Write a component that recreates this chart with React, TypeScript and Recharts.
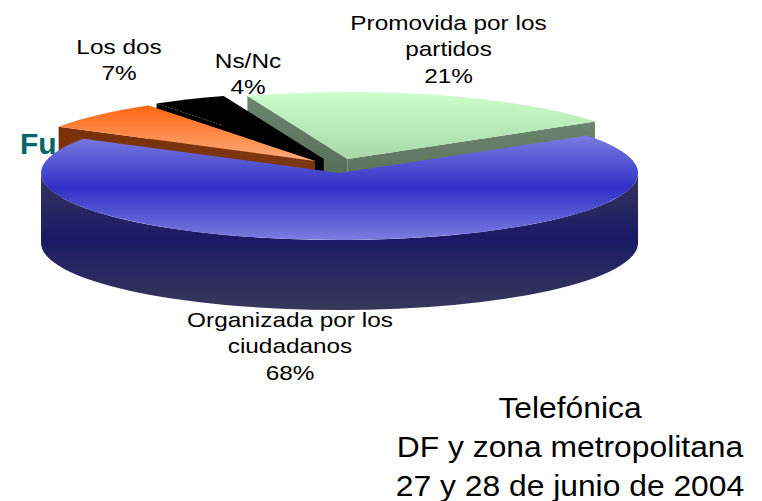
import React from "react";
import { PieChart, Pie } from "recharts";

// porcentajes
const categories = ["Promovida por los partidos", "Ns/Nc", "Los dos", "Organizada por los ciudadanos"];
const values = [21, 4, 7, 68];
const data = categories.map((name, i) => ({ name, value: values[i] }));

const labelLines = [
  ["Promovida por los", "partidos", "21%"],
  ["Ns/Nc", "4%"],
  ["Los dos", "7%"],
  ["Organizada por los", "ciudadanos", "68%"],
];
const footerLines = ["Telefónica", "DF y zona metropolitana", "27 y 28 de junio de 2004"];

// layout del pastel
const CX = 339.5;
const CY = 173;
const RX = 298.5;
const RY = 67;
const DEPTH = 70;
const explode = [
  [8, -14],
  [-16, -14],
  [-24.5, -12],
  [0, 0],
];
const labelPos = [
  [448.5, 30],
  [248, 68],
  [119, 53.5],
  [290, 327],
];
const LINE_H = 26.5;
const topFill = ["url(#topGreen)", "#000000", "url(#topOrange)", "url(#topBlue)"];
const wallFill = ["url(#wallGreen)", "#000000", "url(#wallOrange)", "url(#wallBlue)"];

const rad = (d: number) => (d * Math.PI) / 180;

const Slice3D = (props: any) => {
  const { cx, cy, outerRadius, startAngle, endAngle, name } = props;
  const i = categories.indexOf(name);
  const [dx, dy] = explode[i];
  const ox = cx + dx;
  const oy = cy + dy;
  const ry = (outerRadius * RY) / RX;
  const px = (a: number) => ox + outerRadius * Math.cos(rad(a));
  const py = (a: number) => oy - ry * Math.sin(rad(a));
  const large = endAngle - startAngle > 180 ? 1 : 0;

  const top = `M${ox},${oy} L${px(startAngle)},${py(startAngle)} A${outerRadius},${ry} 0 ${large} 0 ${px(endAngle)},${py(endAngle)} Z`;
  const radial = (a: number) =>
    `M${ox},${oy} L${px(a)},${py(a)} L${px(a)},${py(a) + DEPTH} L${ox},${oy + DEPTH} Z`;

  // banda exterior, solo la mitad frontal se ve
  let band = null;
  const from = Math.max(startAngle, 180);
  const to = Math.min(endAngle, 360);
  if (to > from) {
    const l = to - from > 180 ? 1 : 0;
    band = (
      <path
        d={`M${px(from)},${py(from)} L${px(from)},${py(from) + DEPTH} A${outerRadius},${ry} 0 ${l} 0 ${px(to)},${py(to) + DEPTH} L${px(to)},${py(to)} A${outerRadius},${ry} 0 ${l} 1 ${px(from)},${py(from)} Z`}
        fill={wallFill[i]}
      />
    );
  }

  return (
    <g>
      {i !== 3 && <path d={radial(startAngle)} fill={wallFill[i]} />}
      {i !== 3 && <path d={radial(endAngle)} fill={wallFill[i]} />}
      {band}
      <path d={top} fill={topFill[i]} />
    </g>
  );
};

const renderLabel = (props: any) => {
  const i = categories.indexOf(props.name);
  const [x, y] = labelPos[i];
  // el original tiene el texto algo estirado a lo ancho
  return (
    <text
      key={i}
      transform={`translate(${x},${y}) scale(1.16,1)`}
      textAnchor="middle"
      fontSize={21}
      fill="#000"
      fontFamily="'Liberation Sans', Arial, sans-serif"
    >
      {labelLines[i].map((t, k) => (
        <tspan key={k} x={0} y={k * LINE_H}>
          {t}
        </tspan>
      ))}
    </text>
  );
};

export default function App() {
  return (
    <div style={{ position: "absolute", left: 0, top: 0, width: 762, height: 501, background: "#fff", overflow: "hidden" }}>
      {/* titulo tapado por el pastel en el original */}
      <div
        style={{
          position: "absolute",
          left: 20,
          top: 127,
          fontFamily: "'Liberation Sans', Arial, sans-serif",
          fontWeight: "bold",
          fontSize: 30,
          color: "#006666",
        }}
      >
        Fu
      </div>
      <div style={{ position: "absolute", left: 0, top: 0 }}>
        <PieChart width={762} height={501} margin={{ top: 0, right: 0, bottom: 0, left: 0 }}>
          <defs>
            <linearGradient id="topBlue" x1="0" y1="0" x2="0" y2="1">
              <stop offset="0" stopColor="#7c7ce0" />
              <stop offset="0.5" stopColor="#3030c8" />
              <stop offset="1" stopColor="#7c7ce0" />
            </linearGradient>
            <linearGradient id="wallBlue" x1="0" y1="0" x2="0" y2="1">
              <stop offset="0" stopColor="#38385a" />
              <stop offset="0.47" stopColor="#191966" />
              <stop offset="1" stopColor="#38385a" />
            </linearGradient>
            <linearGradient id="topGreen" x1="0" y1="0" x2="0" y2="1">
              <stop offset="0" stopColor="#ccffcc" />
              <stop offset="1" stopColor="#a8d8a8" />
            </linearGradient>
            <linearGradient id="wallGreen" x1="0" y1="0" x2="0" y2="1">
              <stop offset="0" stopColor="#6b866f" />
              <stop offset="1" stopColor="#4a5e4a" />
            </linearGradient>
            <linearGradient id="topOrange" x1="0" y1="0" x2="0" y2="1">
              <stop offset="0" stopColor="#ff6610" />
              <stop offset="1" stopColor="#ffac80" />
            </linearGradient>
            <linearGradient id="wallOrange" x1="0" y1="0" x2="0" y2="1">
              <stop offset="0" stopColor="#7a3008" />
              <stop offset="1" stopColor="#804020" />
            </linearGradient>
          </defs>
          <Pie
            data={data}
            dataKey="value"
            nameKey="name"
            cx={CX}
            cy={CY}
            outerRadius={RX}
            startAngle={34}
            endAngle={394}
            stroke="none"
            shape={Slice3D}
            label={renderLabel}
            labelLine={false}
            isAnimationActive={false}
          />
        </PieChart>
      </div>
      <div
        style={{
          position: "absolute",
          left: 370,
          width: 400,
          top: 388,
          textAlign: "center",
          fontFamily: "'Liberation Sans', Arial, sans-serif",
          fontSize: 30,
          lineHeight: "39px",
          color: "#000",
          transform: "scaleX(1.06)",
        }}
      >
        {footerLines.map((t) => (
          <div key={t}>{t}</div>
        ))}
      </div>
    </div>
  );
}
